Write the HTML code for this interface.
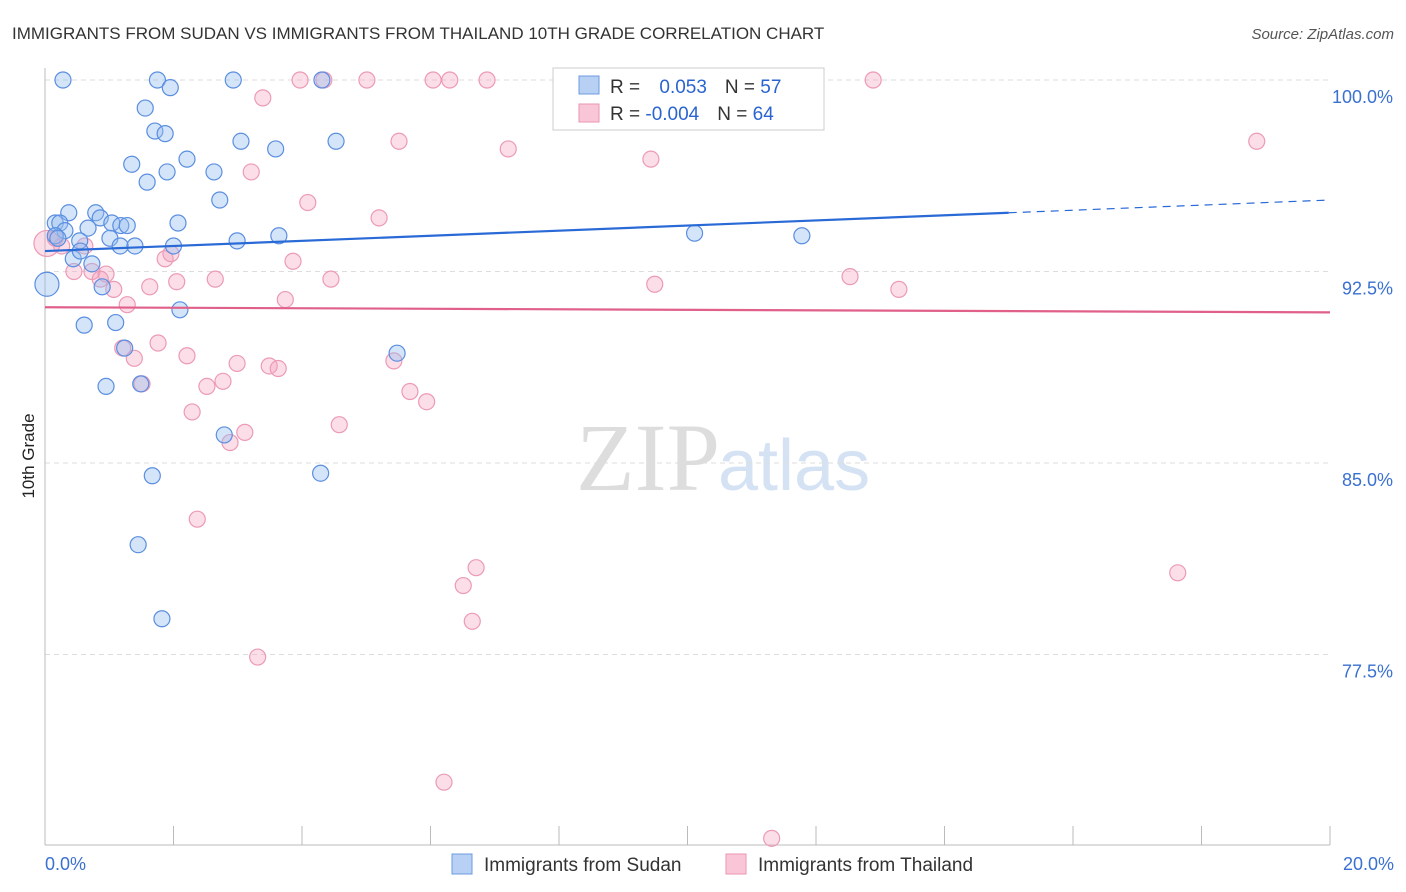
<!DOCTYPE html>
<html><head><meta charset="utf-8"><style>
body{margin:0;background:#fff;font-family:"Liberation Sans",sans-serif;}
svg{display:block}
</style></head><body>
<svg id="chart" width="1406" height="892">
<text x="12" y="39" font-size="17" fill="#333">IMMIGRANTS FROM SUDAN VS IMMIGRANTS FROM THAILAND 10TH GRADE CORRELATION CHART</text>
<text x="1394" y="39" font-size="15" fill="#555" font-style="italic" text-anchor="end">Source: ZipAtlas.com</text>
<text x="720" y="490" font-size="96" fill="#ddd" text-anchor="end" font-family="Liberation Serif">ZIP</text>
<text x="718" y="490" font-size="72" fill="#d4e2f4">atlas</text>
<text x="34" y="456" font-size="17" fill="#222" transform="rotate(-90 34 456)" text-anchor="middle">10th Grade</text>
<g id="grid"></g><g id="marks"></g>
<g>
<rect x="553" y="68" width="271" height="62" fill="#fff" stroke="#ccc"/>
<rect x="579" y="76" width="20" height="18" fill="#b8d0f4" stroke="#6d9be0"/>
<rect x="579" y="104" width="20" height="18" fill="#f8c6d6" stroke="#ea96b2"/>
<text x="610" y="93" font-size="19" fill="#333">R = <tspan fill="#2a64d0" dx="14">0.053</tspan><tspan dx="18" fill="#333">N = </tspan><tspan fill="#2a64d0">57</tspan></text>
<text x="610" y="120" font-size="19" fill="#333">R = <tspan fill="#2a64d0">-0.004</tspan><tspan dx="18" fill="#333">N = </tspan><tspan fill="#2a64d0">64</tspan></text>
</g>
<g>
<rect x="452" y="854" width="20" height="20" fill="#b8d0f4" stroke="#6d9be0"/>
<text x="484" y="871" font-size="19" fill="#333">Immigrants from Sudan</text>
<rect x="726" y="854" width="20" height="20" fill="#f8c6d6" stroke="#ea96b2"/>
<text x="758" y="871" font-size="19" fill="#333">Immigrants from Thailand</text>
</g>
<text x="45" y="870" font-size="18" fill="#3a70d0">0.0%</text>
<text x="1394" y="870" font-size="18" fill="#3a70d0" text-anchor="end">20.0%</text>
</svg>
<script>
const yTicks=[100,92.5,85,77.5];
const yTickLabels=["100.0%","92.5%","85.0%","77.5%"];
const sudanX=[8.9,9.7,10.3,10.5,7.0,10.6,11.3,3.3,3.3,3.0,8.4,7.6,1.9,3.1,4.0,5.1,7.0,6.1,4.7,3.1,1.8,1.6,3.4,4.7,3.9,1.1,1.9,2.3,0.2,0.5,0.9,0.4,2.5,2.0,0.2,3.8,1.3,2.8,4.9,1.2,4.6,0.7,0.8,0.7,0.3,1.3,0.2,2.2,1.8,3.8,1.1,1.2,1.4,0.6,11.3,1.1];
const sudanY=[100,99.7,100,100,98.9,98.0,97.9,96.7,96.0,96.4,96.9,96.4,97.6,97.3,97.6,95.3,94.8,94.8,94.6,94.4,94.4,94.1,94.2,94.4,94.3,94.3,94.4,93.9,93.8,93.7,93.8,93.5,93.5,93.5,93.7,93.9,93.0,92.8,92.0,91.9,91.0,90.4,90.5,89.5,89.3,88.0,88.1,86.1,84.6,84.5,81.8,78.9,94.0,93.9,100,93.3];
const sudanXfix=[1.75,1.95,2.93,4.31,1.56,1.71,1.87,1.35,1.59,1.90,2.21,2.63,3.05,3.59,4.53,2.72,0.37,0.79,0.86,0.16,0.23,0.31,0.67,1.04,1.18,1.28,2.07,0.16,0.20,0.54,1.01,2.00,1.17,1.40,2.99,3.64,0.44,0.73,0.03,0.89,2.10,0.61,1.10,1.24,5.48,0.95,1.49,2.79,4.29,1.67,1.45,1.82,10.11,11.78,0.28,0.55];
const thaiX=[3.97,4.34,5.01,6.04,6.30,6.88,12.89,3.39,5.51,7.21,18.86,9.43,3.21,4.09,5.20,0.16,0.26,0.62,0.45,0.73,0.95,0.86,1.87,1.96,3.86,2.65,2.05,4.45,1.63,1.07,1.28,3.74,9.49,12.53,13.29,1.21,1.76,1.39,2.21,2.99,3.49,3.63,5.43,2.77,2.52,1.51,5.68,5.94,2.29,4.58,3.11,2.88,2.37,6.71,6.51,6.65,17.63,3.31,6.21,11.31,0.03];
const thaiY=[100,100,100,100,100,100,100,99.3,97.6,97.3,97.6,96.9,96.4,95.2,94.6,93.8,93.5,93.5,92.5,92.5,92.4,92.2,93.0,93.2,92.9,92.2,92.1,92.2,91.9,91.8,91.2,91.4,92.0,92.3,91.8,89.5,89.7,89.1,89.2,88.9,88.8,88.7,89.0,88.2,88.0,88.1,87.8,87.4,87.0,86.5,86.2,85.8,82.8,80.9,80.2,78.8,80.7,77.4,72.5,70.3,93.6];
const sudanR=[8,8,8,8,8,8,8,8,8,8,8,8,8,8,8,8,8,8,8,8,8,8,8,8,8,8,8,8,8,8,8,8,8,8,8,8,8,8,12,8,8,8,8,8,8,8,8,8,8,8,8,8,8,8,8,8];
const trendSudan=[93.3,94.8,95.3];
const trendThai=[91.1,90.9];
const xs=x=>45+x/20*1285, ys=v=>80+(100-v)/7.5*191.5;
const NS="http://www.w3.org/2000/svg";
const grid=document.getElementById('grid'),marks=document.getElementById('marks');
function mk(p,tag,at){const e=document.createElementNS(NS,tag);for(const k in at)e.setAttribute(k,at[k]);p.appendChild(e);return e;}
yTicks.forEach((t,i)=>{
 const l=mk(grid,'line',{x1:45,x2:1330,y1:ys(t),y2:ys(t),stroke:'#ddd','stroke-dasharray':'5,4'});
 
 
 const tx=mk(grid,'text',{x:1393,y:ys(t)+23,'font-size':18,fill:'#3a70d0','text-anchor':'end'});
 tx.textContent=yTickLabels[i];
 
 
});
mk(grid,'line',{x1:45,x2:45,y1:68,y2:845,stroke:'#bbb'});
mk(grid,'line',{x1:45,x2:1330,y1:845,y2:845,stroke:'#bbb'});
for(let k=1;k<=10;k++){const t=mk(grid,'line',{x1:xs(k*2),x2:xs(k*2),y1:826,y2:845,stroke:'#bbb'});
 
 }
thaiX.forEach((x,i)=>{const c=mk(marks,'circle',{cx:xs(x),cy:ys(thaiY[i]),r:i==thaiX.length-1?13:8,fill:'rgba(244,160,188,0.35)',stroke:'#ec9ab6','stroke-width':1.2});
 
 });
sudanXfix.forEach((x,i)=>{const c=mk(marks,'circle',{cx:xs(x),cy:ys(sudanY[i]),r:sudanR[i]||8,fill:'rgba(150,190,240,0.4)',stroke:'#5a8ee0','stroke-width':1.2});
 
 });
let l1=mk(marks,'line',{x1:xs(0),y1:ys(trendSudan[0]),x2:xs(15),y2:ys(trendSudan[1]),stroke:'#2a6ad6','stroke-width':2.2});


let l2=mk(marks,'line',{x1:xs(15),y1:ys(trendSudan[1]),x2:xs(20),y2:ys(trendSudan[2]),stroke:'#2a6ad6','stroke-width':1.2,'stroke-dasharray':'8,6'});


let l3=mk(marks,'line',{x1:xs(0),y1:ys(trendThai[0]),x2:xs(20),y2:ys(trendThai[1]),stroke:'#e0608a','stroke-width':2.2});


</script>
</body></html>
